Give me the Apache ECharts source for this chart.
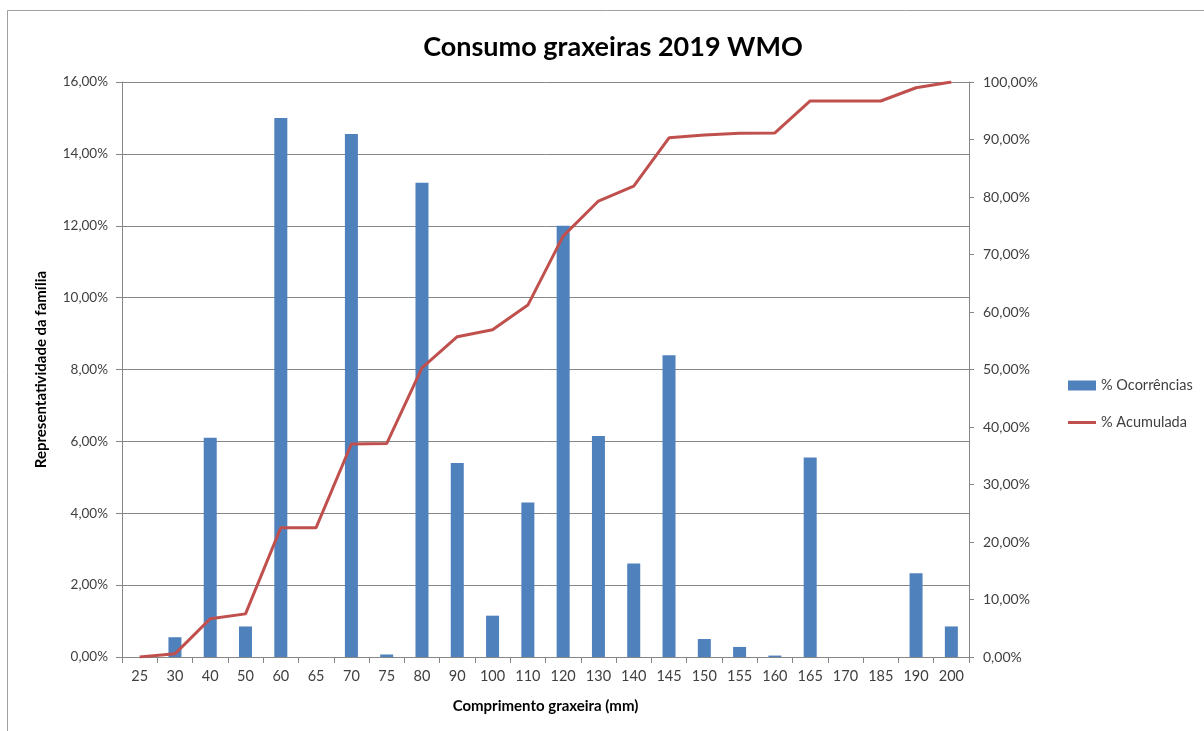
<!DOCTYPE html>
<html>
<head>
<meta charset="utf-8">
<title>Consumo graxeiras 2019 WMO</title>
<script src="https://cdn.jsdelivr.net/npm/echarts@6/dist/echarts.min.js"></script>
<style>
    html, body { margin: 0; padding: 0; background: #fff; }
    #chart { width: 1204px; height: 731px; }
</style>
</head>
<body>
<div id="chart"></div>
<script>
    // comprimentos (mm)
    var categorias = ['25', '30', '40', '50', '60', '65', '70', '75', '80', '90', '100', '110',
        '120', '130', '140', '145', '150', '155', '160', '165', '170', '185', '190', '200'];
    // % ocorrências por comprimento
    var ocorrencias = [0, 0.55, 6.1, 0.85, 15.0, 0, 14.55, 0.07, 13.2, 5.4, 1.15, 4.3,
        12.0, 6.15, 2.6, 8.4, 0.5, 0.28, 0.04, 5.55, 0, 0, 2.33, 0.85];
    // % acumulada
    var acumulada = [0, 0.55, 6.65, 7.5, 22.5, 22.5, 37.05, 37.12, 50.3, 55.7, 56.9, 61.2,
        73.2, 79.3, 81.9, 90.3, 90.8, 91.1, 91.15, 96.7, 96.7, 96.7, 99.0, 100];

    var fonte = 'Lato, "Open Sans", sans-serif';
    var cinza = '#868686';
    // linha fina no meio de uma caixa 28x10 (icone da legenda)
    var iconeLinha = 'path://M0,3.6L28,3.6L28,6.4L0,6.4Z M0,0L0.01,0L0.01,0.01Z M0,10L0.01,10L0.01,9.99Z';

    function pct(v) {
        return v.toFixed(2).replace('.', ',') + '%';
    }

    var myChart = echarts.init(document.getElementById('chart'));
    var option = {
        animation: false,
        textStyle: { fontFamily: fonte },
        title: {
            text: 'Consumo graxeiras 2019 WMO',
            left: 608,
            textAlign: 'center',
            top: 29,
            textStyle: { fontSize: 27, fontWeight: 'bold', color: '#000', fontFamily: fonte }
        },
        graphic: [{
            type: 'rect',
            shape: { x: 7.5, y: 10.5, width: 1300, height: 800 },
            style: { fill: 'none', stroke: '#a0a0a0', lineWidth: 1 },
            silent: true
        }],
        legend: {
            orient: 'vertical',
            left: 1063,
            top: 373,
            itemWidth: 28,
            itemHeight: 10,
            itemGap: 22,
            textStyle: { fontSize: 14.5, color: '#404040', fontFamily: fonte },
            data: [
                { name: '% Ocorrências', icon: 'rect' },
                { name: '% Acumulada', icon: iconeLinha, itemStyle: { color: '#c0504d' } }
            ]
        },
        grid: { left: 122, right: 235, top: 82, bottom: 74 },
        xAxis: {
            type: 'category',
            data: categorias,
            name: 'Comprimento graxeira (mm)',
            nameLocation: 'middle',
            nameGap: 42,
            nameTextStyle: { fontSize: 15, fontWeight: 'bold', color: '#000' },
            axisLine: { lineStyle: { color: cinza } },
            axisTick: { show: true, length: 6, lineStyle: { color: cinza } },
            axisLabel: { fontSize: 14.5, color: '#404040', margin: 12, interval: 0 }
        },
        yAxis: [{
            type: 'value',
            min: 0,
            max: 16,
            interval: 2,
            name: 'Representatividade da família',
            nameLocation: 'middle',
            nameGap: 73,
            nameTextStyle: { fontSize: 15, fontWeight: 'bold', color: '#000' },
            axisLine: { show: true, lineStyle: { color: cinza } },
            axisTick: { show: true, length: 6, lineStyle: { color: cinza } },
            axisLabel: { fontSize: 13.5, color: '#404040', margin: 14, formatter: pct },
            splitLine: { lineStyle: { color: cinza } }
        }, {
            type: 'value',
            min: 0,
            max: 100,
            interval: 10,
            position: 'right',
            axisLine: { show: true, lineStyle: { color: cinza } },
            axisTick: { show: true, length: 5, lineStyle: { color: cinza } },
            axisLabel: { fontSize: 14, color: '#404040', margin: 14, formatter: pct },
            splitLine: { show: false }
        }],
        series: [{
            name: '% Ocorrências',
            type: 'bar',
            yAxisIndex: 0,
            barWidth: 13,
            itemStyle: { color: '#4f81bd' },
            data: ocorrencias
        }, {
            name: '% Acumulada',
            type: 'line',
            yAxisIndex: 1,
            symbol: 'none',
            lineStyle: { color: '#c0504d', width: 3 },
            itemStyle: { color: '#c0504d' },
            data: acumulada
        }]
    };
    myChart.setOption(option);
</script>
</body>
</html>
